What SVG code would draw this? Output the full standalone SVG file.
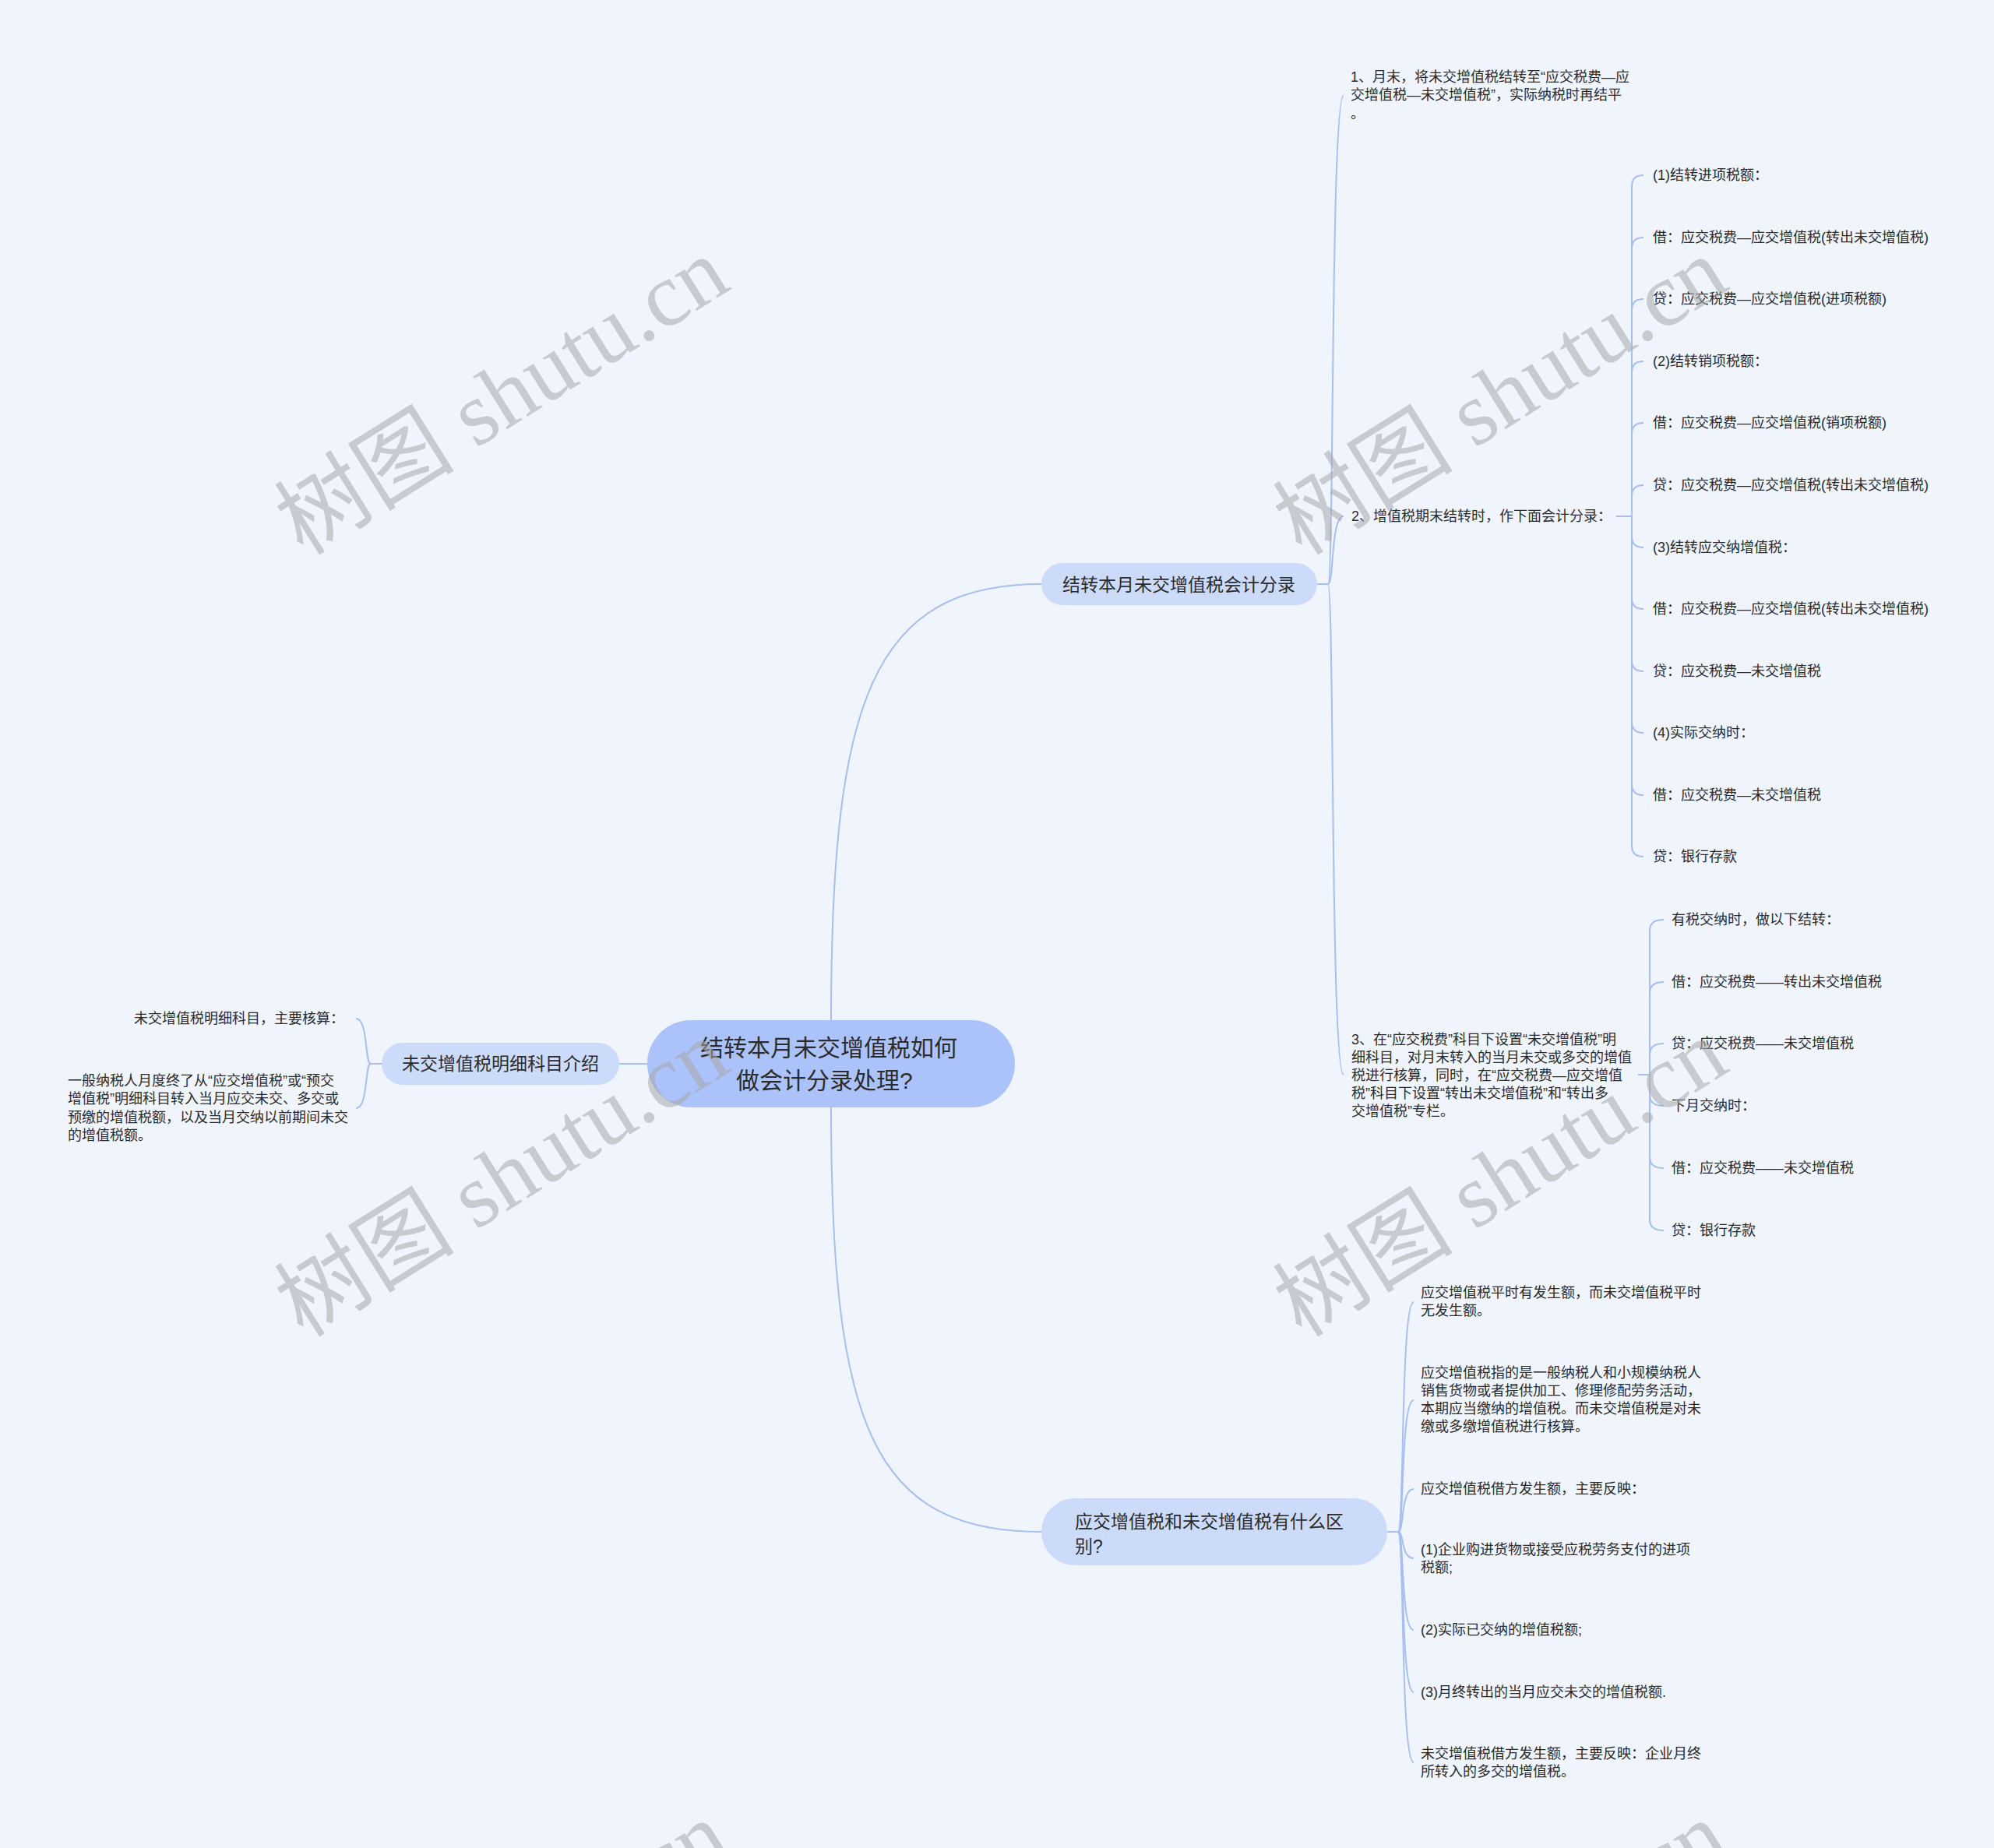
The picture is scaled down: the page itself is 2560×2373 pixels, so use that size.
<svg xmlns="http://www.w3.org/2000/svg" width="2560" height="2373" viewBox="0 0 2560 2373">
<style>
.t{font-family:"Liberation Sans","Noto Sans CJK SC",sans-serif;fill:#2b2b2b;}
.s{font-size:18px;}
.b{font-size:23px;}
.r{font-size:30px;}
.ln{fill:none;stroke:#a6bef0;stroke-width:2;}
.wm{font-family:"Liberation Serif","Noto Sans CJK SC",serif;font-size:116px;fill:#a8a8a8;opacity:0.55;}
</style>
<rect x="0" y="0" width="2560" height="2373" fill="#eff4fd"/>
<g id="connectors">
<path class="ln" d="M1067 1310 C1067 900 1120 750 1337 750"/>
<path class="ln" d="M1067 1422 C1067 1830 1120 1967 1337 1967"/>
<path class="ln" d="M831 1366 L795 1366"/>
<path class="ln" d="M1691 750 L1705 750 C1713 750 1708 123 1725 123"/>
<path class="ln" d="M1691 750 L1705 750 C1713 750 1708 663 1725 663"/>
<path class="ln" d="M1691 750 L1705 750 C1713 750 1708 1380 1725 1380"/>
<path class="ln" d="M2075 663 L2095 663 L2095 239 Q2095 225 2110 225"/>
<path class="ln" d="M2095 663 L2095 319 Q2095 305 2110 305"/>
<path class="ln" d="M2095 663 L2095 398 Q2095 384 2110 384"/>
<path class="ln" d="M2095 663 L2095 478 Q2095 464 2110 464"/>
<path class="ln" d="M2095 663 L2095 557 Q2095 543 2110 543"/>
<path class="ln" d="M2095 663 L2095 637 Q2095 623 2110 623"/>
<path class="ln" d="M2095 663 L2095 689 Q2095 703 2110 703"/>
<path class="ln" d="M2095 663 L2095 768 Q2095 782 2110 782"/>
<path class="ln" d="M2095 663 L2095 848 Q2095 862 2110 862"/>
<path class="ln" d="M2095 663 L2095 927 Q2095 941 2110 941"/>
<path class="ln" d="M2095 663 L2095 1007 Q2095 1021 2110 1021"/>
<path class="ln" d="M2095 663 L2095 1086 Q2095 1100 2110 1100"/>
<path class="ln" d="M2103 1380 L2118 1380 L2118 1195 Q2118 1181 2136 1181"/>
<path class="ln" d="M2118 1380 L2118 1275 Q2118 1261 2136 1261"/>
<path class="ln" d="M2118 1380 L2118 1354 Q2118 1340 2136 1340"/>
<path class="ln" d="M2118 1380 L2118 1406 Q2118 1420 2136 1420"/>
<path class="ln" d="M2118 1380 L2118 1486 Q2118 1500 2136 1500"/>
<path class="ln" d="M2118 1380 L2118 1566 Q2118 1580 2136 1580"/>
<path class="ln" d="M1781 1967 L1795 1967 C1803 1967 1798 1672 1815 1672"/>
<path class="ln" d="M1781 1967 L1795 1967 C1803 1967 1798 1798 1815 1798"/>
<path class="ln" d="M1781 1967 L1795 1967 C1803 1967 1798 1912 1815 1912"/>
<path class="ln" d="M1781 1967 L1795 1967 C1803 1967 1798 2001 1815 2001"/>
<path class="ln" d="M1781 1967 L1795 1967 C1803 1967 1798 2093 1815 2093"/>
<path class="ln" d="M1781 1967 L1795 1967 C1803 1967 1798 2173 1815 2173"/>
<path class="ln" d="M1781 1967 L1795 1967 C1803 1967 1798 2263 1815 2263"/>
<path class="ln" d="M490 1366 L476 1366 C468 1366 473 1308 457 1308"/>
<path class="ln" d="M490 1366 L476 1366 C468 1366 473 1423 457 1423"/>
</g>
<g id="root">
<rect x="831" y="1310" width="472" height="112" rx="56" fill="#abc3fa"/>
<text class="t r" x="899" y="1356">结转本月未交增值税如何</text>
<text class="t r" x="945" y="1398">做会计分录处理?</text>
</g>
<g id="b1">
<rect x="1337" y="723" width="354" height="54" rx="27" fill="#ccdbfa"/>
<text class="t b" x="1364" y="759">结转本月未交增值税会计分录</text>
</g>
<g id="b2">
<rect x="490" y="1339" width="305" height="54" rx="27" fill="#ccdbfa"/>
<text class="t b" x="516" y="1374">未交增值税明细科目介绍</text>
</g>
<g id="b3">
<rect x="1337" y="1924" width="444" height="86" rx="43" fill="#ccdbfa"/>
<text class="t b" x="1380" y="1962">应交增值税和未交增值税有什么区</text>
<text class="t b" x="1380" y="1994">别?</text>
</g>
<g id="b1c1">
<text class="t s" x="1734" y="105">1、月末，将未交增值税结转至“应交税费—应</text>
<text class="t s" x="1734" y="128">交增值税—未交增值税”，实际纳税时再结平</text>
<text class="t s" x="1734" y="152">。</text>
</g>
<g id="b1c2">
<text class="t s" x="1735" y="669">2、增值税期末结转时，作下面会计分录：</text>
</g>
<g id="b1c2items">
<text class="t s" x="2122" y="231">(1)结转进项税额：</text>
<text class="t s" x="2122" y="311">借：应交税费—应交增值税(转出未交增值税)</text>
<text class="t s" x="2122" y="390">贷：应交税费—应交增值税(进项税额)</text>
<text class="t s" x="2122" y="470">(2)结转销项税额：</text>
<text class="t s" x="2122" y="549">借：应交税费—应交增值税(销项税额)</text>
<text class="t s" x="2122" y="629">贷：应交税费—应交增值税(转出未交增值税)</text>
<text class="t s" x="2122" y="709">(3)结转应交纳增值税：</text>
<text class="t s" x="2122" y="788">借：应交税费—应交增值税(转出未交增值税)</text>
<text class="t s" x="2122" y="868">贷：应交税费—未交增值税</text>
<text class="t s" x="2122" y="947">(4)实际交纳时：</text>
<text class="t s" x="2122" y="1027">借：应交税费—未交增值税</text>
<text class="t s" x="2122" y="1106">贷：银行存款</text>
</g>
<g id="b1c3">
<text class="t s" x="1735" y="1341">3、在“应交税费”科目下设置“未交增值税”明</text>
<text class="t s" x="1735" y="1364">细科目，对月末转入的当月未交或多交的增值</text>
<text class="t s" x="1735" y="1387">税进行核算，同时，在“应交税费—应交增值</text>
<text class="t s" x="1735" y="1410">税”科目下设置“转出未交增值税”和“转出多</text>
<text class="t s" x="1735" y="1433">交增值税”专栏。</text>
</g>
<g id="b1c3items">
<text class="t s" x="2146" y="1187">有税交纳时，做以下结转：</text>
<text class="t s" x="2146" y="1267">借：应交税费——转出未交增值税</text>
<text class="t s" x="2146" y="1346">贷：应交税费——未交增值税</text>
<text class="t s" x="2146" y="1426">下月交纳时：</text>
<text class="t s" x="2146" y="1506">借：应交税费——未交增值税</text>
<text class="t s" x="2146" y="1586">贷：银行存款</text>
</g>
<g id="b2items">
<text class="t s" x="172" y="1314">未交增值税明细科目，主要核算：</text>
<text class="t s" x="87" y="1394">一般纳税人月度终了从“应交增值税”或“预交</text>
<text class="t s" x="87" y="1417">增值税”明细科目转入当月应交未交、多交或</text>
<text class="t s" x="87" y="1441">预缴的增值税额，以及当月交纳以前期间未交</text>
<text class="t s" x="87" y="1464">的增值税额。</text>
</g>
<g id="b3items">
<text class="t s" x="1824" y="1666">应交增值税平时有发生额，而未交增值税平时</text>
<text class="t s" x="1824" y="1689">无发生额。</text>
<text class="t s" x="1824" y="1769">应交增值税指的是一般纳税人和小规模纳税人</text>
<text class="t s" x="1824" y="1792">销售货物或者提供加工、修理修配劳务活动，</text>
<text class="t s" x="1824" y="1815">本期应当缴纳的增值税。而未交增值税是对未</text>
<text class="t s" x="1824" y="1838">缴或多缴增值税进行核算。</text>
<text class="t s" x="1824" y="1918">应交增值税借方发生额，主要反映：</text>
<text class="t s" x="1824" y="1996">(1)企业购进货物或接受应税劳务支付的进项</text>
<text class="t s" x="1824" y="2019">税额;</text>
<text class="t s" x="1824" y="2099">(2)实际已交纳的增值税额;</text>
<text class="t s" x="1824" y="2179">(3)月终转出的当月应交未交的增值税额.</text>
<text class="t s" x="1824" y="2258">未交增值税借方发生额，主要反映：企业月终</text>
<text class="t s" x="1824" y="2281">所转入的多交的增值税。</text>
</g>
<g id="watermarks">
<text class="wm" text-anchor="middle" transform="translate(645,510) rotate(-32)" y="38">树图 shutu.cn</text>
<text class="wm" text-anchor="middle" transform="translate(1927,510) rotate(-32)" y="38">树图 shutu.cn</text>
<text class="wm" text-anchor="middle" transform="translate(645,1514) rotate(-32)" y="38">树图 shutu.cn</text>
<text class="wm" text-anchor="middle" transform="translate(1927,1514) rotate(-32)" y="38">树图 shutu.cn</text>
<text class="wm" text-anchor="middle" transform="translate(645,2518) rotate(-32)" y="38">树图 shutu.cn</text>
<text class="wm" text-anchor="middle" transform="translate(1927,2518) rotate(-32)" y="38">树图 shutu.cn</text>
</g>
</svg>
